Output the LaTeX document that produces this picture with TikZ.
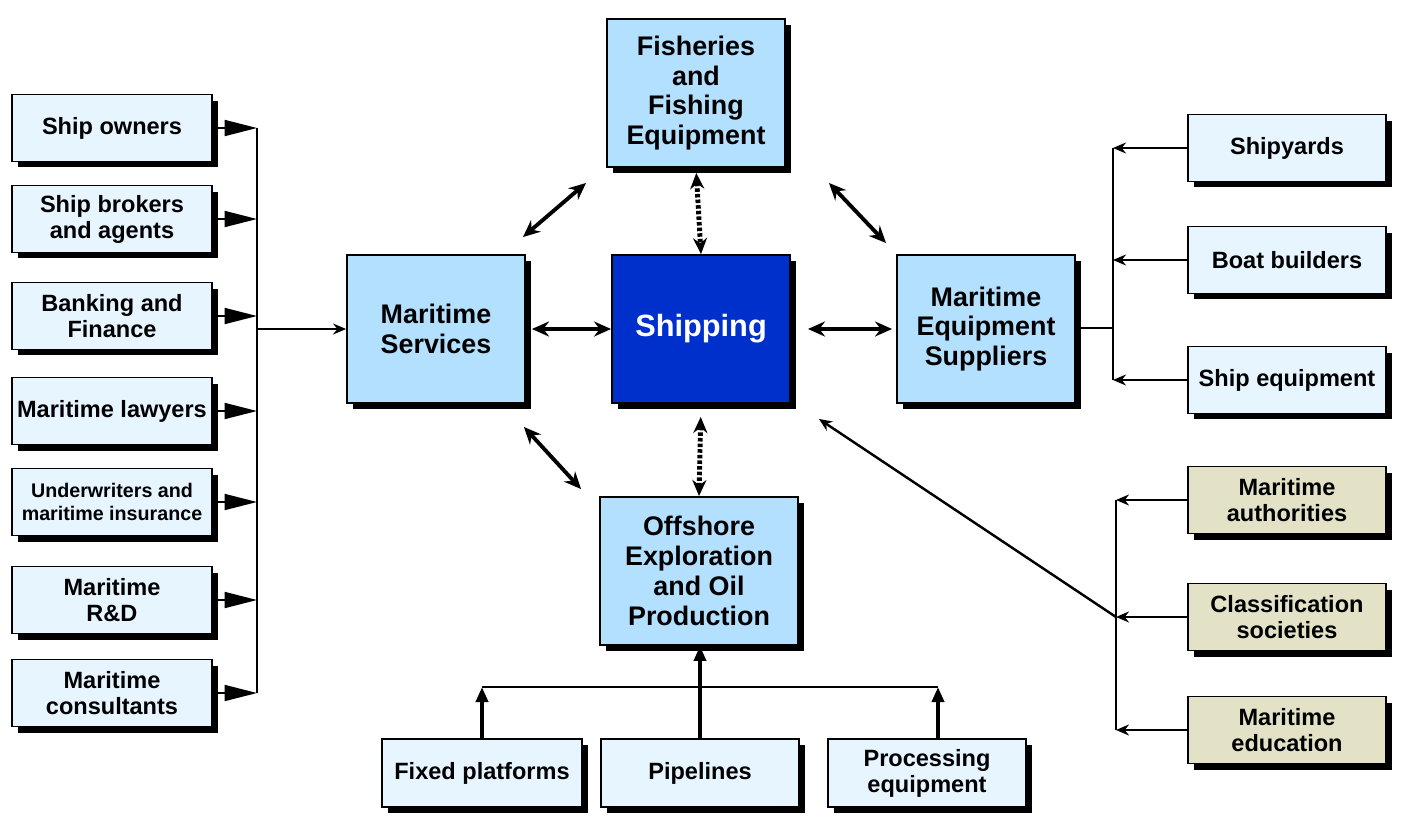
\documentclass[tikz,border=0pt]{standalone}
\usepackage{fontspec}
\setmainfont{Liberation Sans}
\usepackage{tikz}
\usetikzlibrary{positioning, arrows.meta, calc, shadows}

\definecolor{corefill}{RGB}{179,224,255}
\definecolor{leaffill}{RGB}{230,245,255}
\definecolor{govfill}{RGB}{227,226,199}
\definecolor{shipblue}{RGB}{0,48,204}

\begin{document}
\begin{tikzpicture}[
    x=0.02cm, y=-0.02cm,
    basebox/.style={
        rectangle,
        draw=black,
        line width=1.1pt,
        align=center,
        inner sep=2pt,
        font=\bfseries\fontsize{13.4}{14.8}\selectfont,
        drop shadow={shadow xshift=0.12cm, shadow yshift=-0.12cm, fill=black, opacity=1}
    },
    leafbox/.style={basebox, fill=leaffill, minimum width=4cm, minimum height=1.34cm},
    govbox/.style={leafbox, fill=govfill, minimum width=3.96cm},
    corebox/.style={basebox, fill=corefill, minimum width=3.56cm, minimum height=2.96cm,
        font=\bfseries\fontsize{15.3}{17}\selectfont},
    fanin/.style={-{Triangle[length=6.5mm, width=3.2mm]}, line width=1.1pt},
    thinarrow/.style={-{Stealth[length=2.6mm, width=2.2mm]}, line width=1.1pt},
    twoway/.style={{Stealth[length=3.4mm, width=3mm]}-{Stealth[length=3.4mm, width=3mm]}, line width=2.2pt},
    dotway/.style={{Stealth[length=3.2mm, width=2.8mm]}-{Stealth[length=3.2mm, width=2.8mm]}, line width=2.8pt, dash pattern=on 2pt off 1.2pt},
    uparrow/.style={-{Triangle[length=3mm, width=2.4mm]}, line width=2.2pt}
]
\useasboundingbox (0,0) rectangle (1426,832);

% core
\node[corebox, fill=shipblue, text=white, font=\bfseries\fontsize{17.5}{19}\selectfont] (ship) at (701,329) {Shipping};
\node[corebox] (fish) at (696,93) {Fisheries\\and\\Fishing\\Equipment};
\node[corebox] (serv) at (436,329) {Maritime\\Services};
\node[corebox] (mes) at (986,329) {Maritime\\Equipment\\Suppliers};
\node[corebox, minimum width=3.96cm] (off) at (699,571) {Offshore\\Exploration\\and Oil\\Production};

% left column
\node[leafbox] (owners) at (112,128) {Ship owners};
\node[leafbox] (brokers) at (112,219) {Ship brokers\\and agents};
\node[leafbox] (banking) at (112,316) {Banking and\\Finance};
\node[leafbox] (lawyers) at (112,411) {Maritime lawyers};
\node[leafbox, font=\bfseries\fontsize{11.2}{13.6}\selectfont] (under) at (112,502) {Underwriters and\\maritime insurance};
\node[leafbox] (rnd) at (112,600) {Maritime\\R\&D};
\node[leafbox] (consult) at (112,693) {Maritime\\consultants};

% right column
\node[leafbox, minimum width=3.96cm] (yards) at (1287,148) {Shipyards};
\node[leafbox, minimum width=3.96cm] (boats) at (1287,260) {Boat builders};
\node[leafbox, minimum width=3.96cm] (shipeq) at (1287,380) {Ship equipment};
\node[govbox] (auth) at (1287,500) {Maritime\\authorities};
\node[govbox] (class) at (1287,617) {Classification\\societies};
\node[govbox] (edu) at (1287,730) {Maritime\\education};

% bottom row
\node[leafbox, minimum height=1.36cm] (fixed) at (482,773) {Fixed platforms};
\node[leafbox, minimum height=1.36cm, minimum width=3.96cm] (pipe) at (700,773) {Pipelines};
\node[leafbox, minimum height=1.36cm, minimum width=3.96cm] (proc) at (927,773) {Processing\\equipment};

% buses
\coordinate (lbus) at (257,329);
\coordinate (rbus) at (1113,328);
\coordinate (gbus) at (1116,617);
\coordinate (bbus) at (700,687);
\coordinate (procup) at ($(proc.north)+(11,0)$);

\foreach \n in {owners, brokers, banking, lawyers, under, rnd, consult}
    \draw[fanin] (\n.east) -- (\n.east -| lbus);
\draw[line width=1.1pt] (owners.east -| lbus) -- (consult.east -| lbus);
\draw[thinarrow] (lbus) -- (lbus -| serv.west);

\foreach \n in {yards, boats, shipeq}
    \draw[thinarrow] (\n.west) -- (\n.west -| rbus);
\draw[line width=1.1pt] (yards.west -| rbus) -- (shipeq.west -| rbus);
\draw[line width=1.1pt] (mes.east |- rbus) -- (rbus);

\foreach \n in {auth, class, edu}
    \draw[thinarrow, line width=1.4pt] (\n.west) -- (\n.west -| gbus);
\draw[line width=1.1pt] (auth.west -| gbus) -- (edu.west -| gbus);
\draw[thinarrow, line width=1.4pt] (gbus) -- ($(ship.south east)+(28,15)$);

\draw[line width=1.1pt] (fixed.north |- bbus) -- (procup |- bbus);
\draw[uparrow] (fixed.north) -- (fixed.north |- bbus);
\draw[uparrow] (procup) -- (procup |- bbus);
\draw[uparrow, line width=2.8pt] (pipe.north) -- (pipe.north |- off.south);

% links round the hub
\draw[twoway, shorten <=0.12cm] (serv.east) -- (ship.west);
\draw[twoway, shorten <=0.34cm, shorten >=0.08cm] (ship.east) -- (mes.west);
\draw[dotway, shorten <=0.1cm] (fish.south) -- (ship.north);
\draw[dotway, shorten <=0.26cm] (ship.south) -- (off.north);
\draw[twoway] ($(fish.south west)+(-20,15)$) -- ($(serv.north east)+(-3,-17)$);
\draw[twoway] ($(fish.south east)+(43,15)$) -- ($(mes.north west)+(-10,-11)$);
\draw[twoway] ($(serv.south east)+(-2,23)$) -- ($(off.north west)+(-18,-7)$);

\end{tikzpicture}
\end{document}
